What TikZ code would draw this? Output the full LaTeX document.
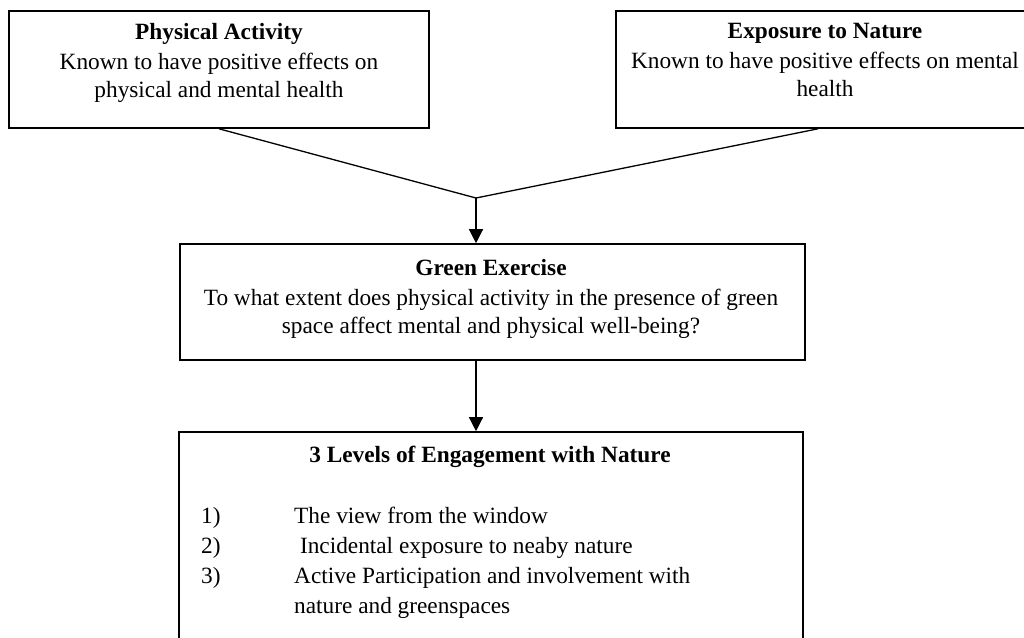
\documentclass[tikz,border=0pt]{standalone}
\usepackage{fontspec}
\setmainfont{Liberation Serif}
\usetikzlibrary{arrows.meta,positioning,calc}

\begin{document}
\begin{tikzpicture}[x=1pt,y=-1pt,
  box/.style={draw,line width=1.6pt,inner sep=0pt},
  txt/.style={font=\fontsize{23.3}{28}\selectfont,align=center,inner sep=0pt,anchor=north},
  item/.style={font=\fontsize{23.3}{30}\selectfont,align=left,inner sep=0pt,anchor=north west},
  link/.style={line width=1.3pt},
  arr/.style={line width=1.3pt,-{Triangle[length=14pt,width=14pt]}}]
\useasboundingbox (0,0) rectangle (1024,637);
% the four boxes
\node[box,minimum width=420pt,minimum height=117pt] (pa) at (219,69.5) {};
\node[box,minimum width=420pt,minimum height=117pt] (en) at (826,69.5) {};
\node[box,minimum width=625pt,minimum height=116pt] (ge) at (492.5,302) {};
\node[box,minimum width=624pt,minimum height=230pt] (lv) at (491,547) {};
% box texts
\node[txt] (paText) at ([yshift=-13pt]pa.north) {\textbf{Physical Activity}\\[2pt]
  Known to have positive effects on\\physical and mental health};
\node[txt] (enText) at ([xshift=-1pt,yshift=-13pt]en.north) {\textbf{Exposure to Nature}\\[2pt]
  Known to have positive effects on mental\\health};
\node[txt] (geText) at ([xshift=-1.5pt,yshift=-15.5pt]ge.north) {\textbf{Green Exercise}\\[2pt]
  To what extent does physical activity in the presence of green\\space affect mental and physical well-being?};
\node[txt] (lvText) at ([xshift=-1pt,yshift=-15pt]lv.north) {\textbf{3 Levels of Engagement with Nature}};
% numbered levels
\foreach \i/\yy/\t in {1/507/{The view from the window},
                       2/537/{\ Incidental exposure to neaby nature},
                       3/567/{Active Participation and involvement with\\nature and greenspaces}}{
  \node[item] (num\i) at (201,\yy) {\i)};
  \node[item] (lvl\i) at (294,\yy) {\t};
}
% connectors
\coordinate (join) at (476,198);
\draw[link] (pa.south) -- (join) -- ([xshift=-8pt]en.south);
\draw[arr] (join) -- (join |- ge.north);
\draw[arr] (join |- ge.south) -- (join |- lv.north);
\end{tikzpicture}
\end{document}
